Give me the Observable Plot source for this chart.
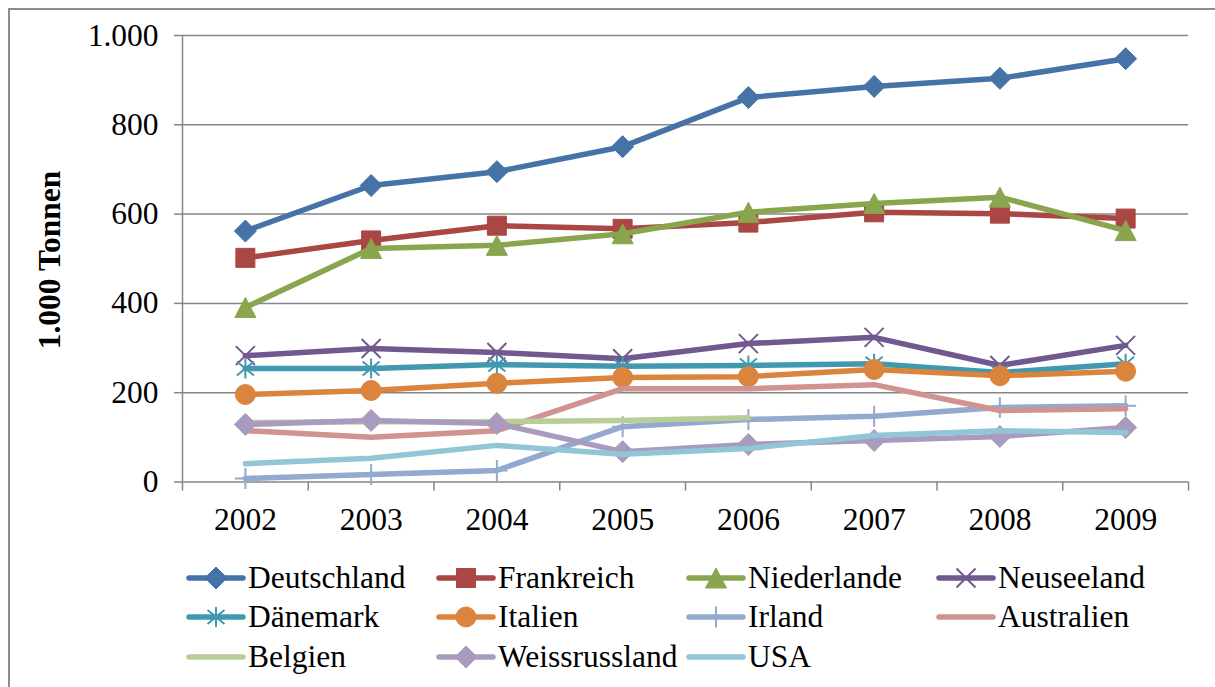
<!DOCTYPE html>
<html>
<head>
<meta charset="utf-8">
<script src="https://cdn.jsdelivr.net/npm/d3@7"></script>
<script src="https://cdn.jsdelivr.net/npm/@observablehq/plot@0.6"></script>
<style>
  html, body { margin: 0; padding: 0; background: #fff; }
  #wrap { position: relative; width: 1215px; height: 687px; overflow: hidden; font-family: "Liberation Serif", "Times New Roman", serif; }
  #frame { position: absolute; left: 8px; top: 8px; width: 1400px; height: 900px; border-left: 2px solid #8c8c8c; border-top: 2px solid #8c8c8c; }
  #chart { position: absolute; left: 0; top: 0; }
  #ytitle { position: absolute; left: 50px; top: 260px; transform: translate(-50%, -50%) rotate(-90deg); font-weight: bold; font-size: 31.5px; white-space: nowrap; color: #000; }
  #legend { position: absolute; left: 185px; top: 558px; display: grid; grid-template-columns: repeat(4, 250px); grid-auto-rows: 39.5px; }
  .item { display: flex; align-items: center; font-size: 31.5px; color: #000; white-space: nowrap; }
  .item svg { flex: none; }
</style>
</head>
<body>
<div id="wrap">
  <div id="frame"></div>
  <div id="chart"></div>
  <div id="ytitle">1.000 Tonnen</div>
  <div id="legend"></div>
</div>
<script>
// ---- Data ----
const years = [2002, 2003, 2004, 2005, 2006, 2007, 2008, 2009];
const yTicks = [0, 200, 400, 600, 800, 1000];
const seriesNames = ["Deutschland", "Frankreich", "Niederlande", "Neuseeland", "Dänemark", "Italien", "Irland", "Australien", "Belgien", "Weissrussland", "USA"];
const deutschland   = [562, 664, 695, 751, 861, 886, 904, 948];
const frankreich    = [502, 541, 574, 567, 581, 604, 601, 590];
const niederlande   = [391, 523, 530, 556, 604, 624, 638, 563];
const neuseeland    = [283, 299, 290, 276, 310, 324, 261, 306];
const daenemark     = [254, 254, 263, 259, 261, 265, 245, 265];
const italien       = [196, 205, 221, 234, 236, 252, 238, 248];
const irland        = [8, 17, 26, 124, 140, 147, 167, 171];
const australien    = [115, 100, 115, 209, 209, 218, 160, 164];
const belgien       = [133, 135, 135, 138, 144, null, null, null];
const weissrussland = [129, 138, 131, 68, 84, 93, 102, 122];
const usa           = [41, 53, 82, 62, 75, 104, 115, 111];
const seriesValues = [deutschland, frankreich, niederlande, neuseeland, daenemark, italien, irland, australien, belgien, weissrussland, usa];

// ---- Styles ----
const colors = ["#4572A7", "#AA4643", "#89A54E", "#71588F", "#4198AF", "#DB843D", "#93A9CF", "#D19392", "#B9CD96", "#A99BBD", "#92C5D6"];
const rad = s => Math.sqrt(s / Math.PI);
const symDiamond = { draw(c, s) { const r = rad(s); c.moveTo(0, -r); c.lineTo(r, 0); c.lineTo(0, r); c.lineTo(-r, 0); c.closePath(); } };
const symSquare = { draw(c, s) { const r = rad(s); c.rect(-r, -r, 2 * r, 2 * r); } };
const symTriangle = { draw(c, s) { const r = rad(s); c.moveTo(0, -r); c.lineTo(r * 1.05, r); c.lineTo(-r * 1.05, r); c.closePath(); } };
const symCircle = { draw(c, s) { const r = rad(s); c.moveTo(r, 0); c.arc(0, 0, r, 0, 2 * Math.PI); } };
const symTimes = { draw(c, s) { const r = rad(s); c.moveTo(-r, -r); c.lineTo(r, r); c.moveTo(-r, r); c.lineTo(r, -r); } };
const symStar = { draw(c, s) { const r = rad(s); c.moveTo(-r * 0.85, -r * 0.7); c.lineTo(r * 0.85, r * 0.7); c.moveTo(-r * 0.85, r * 0.7); c.lineTo(r * 0.85, -r * 0.7); c.moveTo(0, -r); c.lineTo(0, r); } };
const symPlus = { draw(c, s) { const r = rad(s); c.moveTo(0, -r); c.lineTo(0, r); c.moveTo(-r, 0); c.lineTo(r, 0); } };
// [symbol, radius, filled]
const markers = [
  [symDiamond, 11, true], [symSquare, 9.5, true], [symTriangle, 10, true], [symTimes, 9.5, false],
  [symStar, 10, false], [symCircle, 10, true], [symPlus, 10.5, false], null, null, [symDiamond, 11, true], null
];

const rows = [];
seriesNames.forEach((name, i) => {
  years.forEach((yr, j) => {
    const v = seriesValues[i][j];
    if (v != null) rows.push({ series: name, idx: i, year: yr, value: v });
  });
});

const boundaries = d3.range(2001.5, 2010, 1);
const seriesMarks = [];
seriesNames.forEach((name, i) => {
  const d = rows.filter(r => r.idx === i);
  seriesMarks.push(Plot.line(d, { x: "year", y: "value", stroke: colors[i], strokeWidth: 5.5, strokeLinejoin: "round", strokeLinecap: "round" }));
  const m = markers[i];
  if (m) {
    seriesMarks.push(Plot.dot(d, {
      x: "year", y: "value", symbol: m[0], r: m[1],
      fill: m[2] ? colors[i] : "none", stroke: colors[i], strokeWidth: m[2] ? 1 : 2
    }));
  }
});

const fmt = v => d3.format(",")(v).replace(/,/g, ".");

const chart = Plot.plot({
  width: 1215, height: 545,
  marginLeft: 182, marginRight: 27, marginTop: 35, marginBottom: 63.5,
  x: { type: "linear", domain: [2001.5, 2009.5] },
  y: { domain: [0, 1000] },
  style: { fontFamily: "'Liberation Serif', 'Times New Roman', serif", fontSize: "31.5px", color: "#000", background: "transparent", overflow: "visible" },
  marks: [
    Plot.ruleY(yTicks, { x1: 2001.5, x2: 2009.5, stroke: "#868686", strokeWidth: 1.5 }),
    Plot.ruleX([2001.5], { y1: 0, y2: 1000, stroke: "#868686", strokeWidth: 1.5 }),
    Plot.axisY({ ticks: yTicks, tickSize: 8, tickPadding: 16, tickFormat: fmt, stroke: "#868686", strokeWidth: 1.5, label: null, fontSize: 31.5 }),
    Plot.axisX({ ticks: boundaries, tickSize: 9, tickFormat: () => "", stroke: "#868686", strokeWidth: 1.5, label: null }),
    Plot.axisX({ ticks: years, tickSize: 0, tickPadding: 26, tickFormat: d => String(d), label: null, fontSize: 31.5 }),
    ...seriesMarks
  ]
});
document.getElementById("chart").appendChild(chart);

// ---- Legend ----
const legend = d3.select("#legend");
seriesNames.forEach((name, i) => {
  const item = legend.append("div").attr("class", "item");
  const svg = item.append("svg").attr("width", 63).attr("height", 40);
  svg.append("line").attr("x1", 4).attr("x2", 58).attr("y1", 20).attr("y2", 20)
    .attr("stroke", colors[i]).attr("stroke-width", 5.5).attr("stroke-linecap", "round");
  const m = markers[i];
  if (m) {
    svg.append("path").attr("transform", "translate(31,20)")
      .attr("d", d3.symbol(m[0], m[1] * m[1] * Math.PI)())
      .attr("fill", m[2] ? colors[i] : "none").attr("stroke", colors[i]).attr("stroke-width", m[2] ? 1 : 2);
  }
  item.append("span").text(name);
});
</script>
</body>
</html>
